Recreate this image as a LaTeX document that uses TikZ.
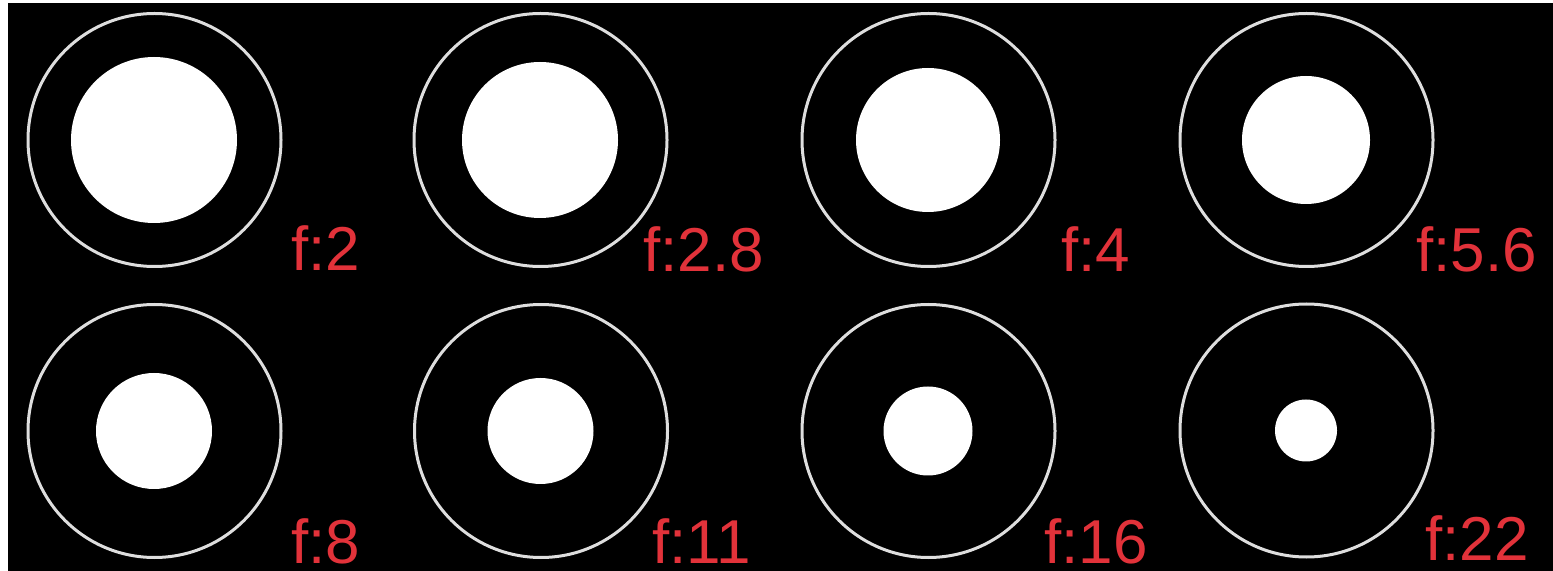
\documentclass[tikz,border=0pt]{standalone}
\usepackage{fontspec}
\setmainfont{Liberation Sans}
\definecolor{ringgray}{RGB}{222,222,222}
\definecolor{labelred}{RGB}{226,50,58}
\tikzset{
  ring/.style={circle, draw=ringgray, line width=1.5pt, minimum size=126.5pt, inner sep=0pt},
  hole/.style={circle, fill=white, inner sep=0pt},
  flabel/.style={anchor=base west, inner sep=0pt, text=labelred, font=\fontsize{31}{32}\selectfont}
}
\begin{document}
\begin{tikzpicture}[x=0.5pt, y=-0.5pt]
\useasboundingbox (0,0) rectangle (1553,571);
\fill[white] (0,0) rectangle (1553,571);
\fill[black] (8,3) rectangle (1553,571);
\foreach \n/\cx/\cy/\r/\lx/\ly/\t in {
  1/154.5/140/83/291/271/{f:2},
  2/540.5/140/78/643/272/{f:2.8},
  3/928.5/140/72/1061/272/{f:4},
  4/1306.5/140/64/1416/272/{f:5.6},
  5/154.5/431/58/291/563/{f:8},
  6/541/431/53/652/563/{f:11},
  7/928.5/431/44.5/1044/563/{f:16},
  8/1306.5/430.5/31/1425/560/{f:22}}{
  \node[ring] (ring\n) at (\cx,\cy) {};
  \node[hole, minimum size=\r pt] (hole\n) at (\cx-0.5,\cy) {};
  \node[flabel] (lab\n) at (\lx,\ly) {\t};
}
\end{tikzpicture}
\end{document}
